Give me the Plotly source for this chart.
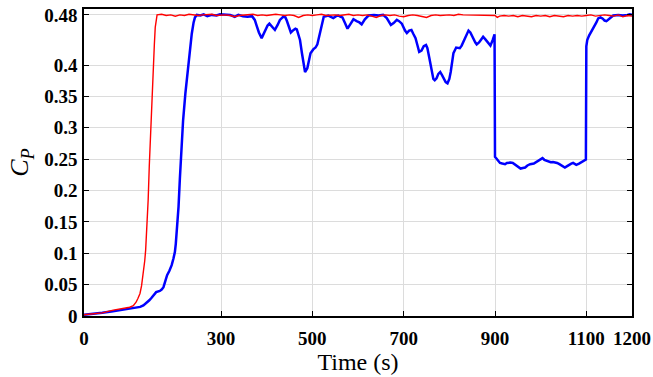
import plotly.graph_objects as go

# ---- data ----
blue_t = [0, 20, 40, 60, 80, 100, 115, 123, 130, 137, 143, 148, 153, 158, 166, 170, 174, 178, 182, 187,
          192, 196, 199, 201, 203, 205, 207, 210, 213, 217, 222, 228, 232, 236, 240, 243, 247, 255, 262, 270,
          280, 290, 298, 310, 320, 330, 338, 348, 358, 368, 374, 378, 383, 389, 393, 397, 402, 406, 412, 418,
          424, 429, 436, 441, 444, 449, 453, 459, 463, 466, 470, 473, 477, 481, 484, 489, 493, 496, 502, 507,
          511, 515, 518, 522, 525, 535, 541, 546, 552, 557, 562, 566, 571, 577, 583, 590, 597, 603, 608, 615,
          623, 635, 645, 655, 663, 668, 672, 678, 685, 690, 696, 703, 707, 712, 717, 721, 726, 730, 734, 739,
          744, 749, 752, 756, 761, 765, 768, 772, 776, 780, 784, 788, 792, 796, 800, 803, 806, 809, 815, 820,
          823, 827, 831, 836, 842, 846, 849, 853, 857, 860, 865, 869, 874, 879, 883, 887, 890, 895, 899, 900,
          905, 911, 916, 922, 926, 929, 934, 939, 944, 949, 956, 961, 966, 971, 977, 985, 990, 995, 1000, 1004,
          1008, 1013, 1018, 1022, 1027, 1031, 1036, 1041, 1047, 1053, 1058, 1063, 1067, 1071, 1075, 1078, 1084, 1090, 1095, 1099,
          1100, 1102, 1106, 1111, 1115, 1118, 1122, 1126, 1131, 1136, 1140, 1144, 1150, 1155, 1159, 1170, 1180, 1190, 1195, 1200]
blue_cp = [0.002, 0.003, 0.005, 0.007, 0.009, 0.011, 0.013, 0.0145, 0.017, 0.021, 0.025, 0.029, 0.034, 0.038, 0.040, 0.042, 0.046, 0.055, 0.065, 0.072,
           0.081, 0.092, 0.102, 0.115, 0.131, 0.150, 0.174, 0.22, 0.26, 0.312, 0.355, 0.397, 0.425, 0.450, 0.468, 0.476, 0.480, 0.479, 0.481, 0.478,
           0.480, 0.479, 0.481, 0.481, 0.480, 0.477, 0.480, 0.478, 0.477, 0.478, 0.472, 0.463, 0.452, 0.443, 0.449, 0.456, 0.463, 0.466, 0.461, 0.456,
           0.464, 0.472, 0.477, 0.476, 0.471, 0.461, 0.452, 0.456, 0.458, 0.457, 0.447, 0.440, 0.420, 0.400, 0.389, 0.395, 0.410, 0.419, 0.425, 0.428,
           0.433, 0.445, 0.456, 0.470, 0.477, 0.479, 0.477, 0.475, 0.478, 0.479, 0.477, 0.476, 0.468, 0.458, 0.465, 0.473, 0.470, 0.468, 0.465, 0.473,
           0.479, 0.480, 0.479, 0.480, 0.475, 0.470, 0.464, 0.467, 0.472, 0.470, 0.466, 0.455, 0.451, 0.455, 0.456, 0.450, 0.443, 0.432, 0.421, 0.423,
           0.430, 0.432, 0.427, 0.412, 0.392, 0.378, 0.376, 0.379, 0.386, 0.389, 0.384, 0.377, 0.373, 0.371, 0.378, 0.389, 0.405, 0.419, 0.428, 0.428,
           0.427, 0.431, 0.437, 0.447, 0.455, 0.452, 0.447, 0.441, 0.436, 0.433, 0.436, 0.440, 0.445, 0.441, 0.437, 0.433, 0.431, 0.440, 0.449, 0.2537,
           0.249, 0.244, 0.243, 0.242, 0.244, 0.2445, 0.2445, 0.244, 0.241, 0.239, 0.235, 0.236, 0.2367, 0.240, 0.242, 0.243, 0.245, 0.2473, 0.250, 0.2516,
           0.249, 0.2473, 0.246, 0.2452, 0.2455, 0.2452, 0.244, 0.242, 0.239, 0.2367, 0.239, 0.242, 0.243, 0.244, 0.2425, 0.241, 0.243, 0.2452, 0.247, 0.2494,
           0.43, 0.440, 0.447, 0.453, 0.458, 0.461, 0.468, 0.4745, 0.476, 0.474, 0.471, 0.470, 0.474, 0.477, 0.479, 0.480, 0.479, 0.480, 0.481, 0.480]

red_t = [0, 20, 40, 64, 85, 100, 108, 114, 118, 122.6, 126, 130, 133, 135, 137, 138.6, 140.5, 143, 145, 147,
         150, 152, 154, 156, 158, 160,
         170, 180, 190, 200, 210, 220, 230, 240, 250, 260, 270, 280, 290, 300, 310, 320, 330, 340, 350, 360,
         370, 380, 390, 400, 410, 420, 430, 440, 450, 460, 470, 480, 490, 500, 510, 520, 530, 540, 550, 560,
         570, 580, 590, 600, 610, 620, 630, 640, 650, 660, 670, 680, 690, 700, 710, 720, 730, 740, 750, 760,
         770, 780, 790, 800, 810, 820, 830, 840, 850, 860, 870, 880, 890, 900, 905, 910, 920, 930, 940, 950,
         960, 970, 980, 990, 1000, 1010, 1020, 1030, 1040, 1050, 1060, 1070, 1080, 1090, 1100, 1110, 1120, 1130, 1140, 1150,
         1160, 1170, 1180, 1190, 1200]
red_cp = [0.002, 0.003, 0.005, 0.0094, 0.012, 0.014, 0.0165, 0.022, 0.028, 0.036, 0.048, 0.068, 0.088, 0.105, 0.13, 0.158, 0.185, 0.24, 0.28, 0.31,
          0.37, 0.40, 0.432, 0.46, 0.475, 0.480,
          0.481, 0.479, 0.480, 0.478, 0.480, 0.479, 0.481, 0.480, 0.479, 0.480, 0.480, 0.481, 0.479, 0.480, 0.480, 0.479, 0.477, 0.479, 0.480, 0.480,
          0.481, 0.479, 0.480, 0.479, 0.480, 0.481, 0.480, 0.479, 0.480, 0.479, 0.476, 0.479, 0.480, 0.479, 0.480, 0.481, 0.479, 0.480, 0.480, 0.479,
          0.480, 0.481, 0.479, 0.480, 0.479, 0.480, 0.478, 0.476, 0.479, 0.480, 0.479, 0.480, 0.478, 0.477, 0.479, 0.480, 0.479, 0.478, 0.476, 0.479,
          0.480, 0.479, 0.480, 0.480, 0.479, 0.481, 0.480, 0.480, 0.479, 0.480, 0.480, 0.479, 0.480, 0.479, 0.476, 0.478, 0.479, 0.478, 0.479, 0.477,
          0.479, 0.478, 0.477, 0.479, 0.478, 0.479, 0.477, 0.479, 0.478, 0.477, 0.479, 0.478, 0.479, 0.478, 0.479, 0.480, 0.478, 0.479, 0.480, 0.479,
          0.478, 0.480, 0.477, 0.479, 0.478]

x_ticks = [0, 300, 500, 700, 900, 1100, 1200]
y_ticks = [0, 0.05, 0.1, 0.15, 0.2, 0.25, 0.3, 0.35, 0.4, 0.48]
y_tick_labels = ["0", "0.05", "0.1", "0.15", "0.2", "0.25", "0.3", "0.35", "0.4", "0.48"]

fig = go.Figure()
fig.add_trace(go.Scatter(x=blue_t, y=blue_cp, mode="lines",
                         line=dict(color="#0000ff", width=2.5), showlegend=False))
fig.add_trace(go.Scatter(x=red_t, y=red_cp, mode="lines",
                         line=dict(color="#ff0000", width=1.4), showlegend=False))

SERIF = "Liberation Serif, Times New Roman, serif"
tickfont = dict(family=SERIF, size=19, color="black")
axis_common = dict(showline=True, linecolor="black", linewidth=1.5, mirror="ticks",
                   ticks="inside", ticklen=5, tickcolor="black", tickwidth=1,
                   showgrid=True, gridcolor="#dcdcdc", gridwidth=1, zeroline=False,
                   tickfont=tickfont, automargin=False)

fig.update_xaxes(range=[0, 1200], tickvals=x_ticks, ticktext=[f"<b>{v}</b>" for v in x_ticks],
                 ticklabelstandoff=4,
                 title=dict(text="Time (s)", font=dict(family=SERIF, size=24, color="black"),
                            standoff=6),
                 **axis_common)
fig.update_yaxes(range=[0, 0.4894], tickvals=y_ticks, ticktext=[f"<b>{t}</b>" for t in y_tick_labels],
                 ticklabelstandoff=1,
                 title=dict(text="<i>C</i><sub><i>P</i></sub>",
                            font=dict(family=SERIF, size=26, color="black"), standoff=8),
                 **axis_common)

fig.update_layout(width=653, height=377, margin=dict(l=84, r=21, t=9, b=61, autoexpand=False),
                  plot_bgcolor="white", paper_bgcolor="white")

fig.write_html("out.html", config={"displayModeBar": False},
               post_script="document.body.style.margin='0';document.body.style.padding='0';")
